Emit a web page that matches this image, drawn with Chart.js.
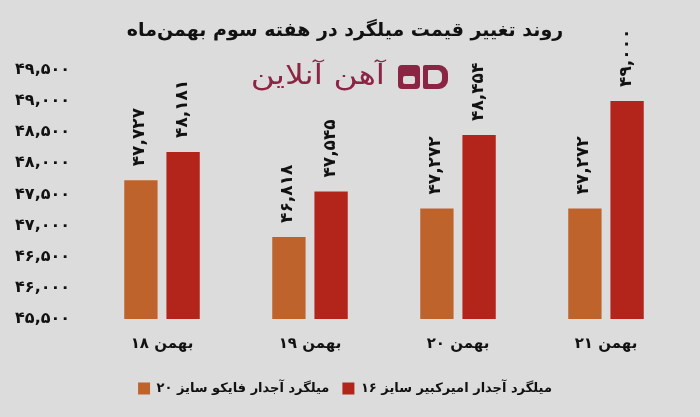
<!DOCTYPE html>
<html>
<head>
<meta charset="utf-8">
<script src="https://cdn.jsdelivr.net/npm/chart.js@4/dist/chart.umd.min.js"></script>
<style>
  html, body { margin: 0; padding: 0; background: #dcdcdc; }
  #wrap { width: 700px; height: 417px; }
</style>
</head>
<body>
<div id="wrap"><canvas id="chart" width="700" height="417"></canvas></div>
<script>
// داده‌ها
const categories = ['۱۸ بهمن', '۱۹ بهمن', '۲۰ بهمن', '۲۱ بهمن'];
const faykoValues = [47727, 46818, 47272, 47272];
const amirkabirValues = [48181, 47545, 48454, 49000];
const seriesNames = ['میلگرد آجدار فایکو سایز ۲۰', 'میلگرد آجدار امیرکبیر سایز ۱۶'];
const yMin = 45500, yMax = 49500, yStep = 500;

const FONT = "'DejaVu Sans', sans-serif";

// ارقام فارسی
function toFa(n) {
    const s = n.toLocaleString('en-US');
    return s.replace(/\d/g, d => '۰۱۲۳۴۵۶۷۸۹'[d]);
}
// جهت متن: عدد سمت چپ (LTR isolate) و متن راست‌به‌چپ (RTL isolate)
const ltr = s => '\u2066' + s + '\u2069';
const rtl = s => '\u2067' + s + '\u2069';

// برچسب روی ستون‌ها (عمودی)
const barLabels = {
    id: 'barLabels',
    afterDatasetsDraw(chart) {
        const ctx = chart.ctx;
        chart.data.datasets.forEach((ds, i) => {
            const meta = chart.getDatasetMeta(i);
            meta.data.forEach((bar, j) => {
                ctx.save();
                ctx.translate(bar.x - 1, bar.y - 14);
                ctx.rotate(-Math.PI / 2);
                ctx.font = 'bold 17px ' + FONT;
                ctx.fillStyle = '#111';
                ctx.textAlign = 'left';
                ctx.textBaseline = 'middle';
                ctx.fillText(toFa(ds.data[j]), 0, 0);
                ctx.restore();
            });
        });
    }
};

// لوگو آهن آنلاین
const logo = {
    id: 'logo',
    afterDraw(chart) {
        const ctx = chart.ctx;
        const c = '#8c2444';
        ctx.save();
        ctx.fillStyle = c;
        ctx.font = '27px ' + FONT;
        ctx.textAlign = 'right';
        ctx.textBaseline = 'middle';
        ctx.save();
        ctx.translate(385, 77);
        ctx.scale(1.22, 1);
        ctx.fillText('آهن آنلاین', 0, 0);
        ctx.restore();
        // آیکون
        ctx.beginPath();
        ctx.roundRect(398, 65, 22, 24, 4);
        ctx.roundRect(423, 65, 25, 24, [2, 9, 9, 2]);
        ctx.fill();
        ctx.fillStyle = '#dcdcdc';
        ctx.beginPath();
        ctx.roundRect(403, 76, 12, 8, 2);
        ctx.roundRect(428, 70, 14, 14, [1, 5, 5, 1]);
        ctx.fill();
        ctx.restore();
    }
};

const bg = {
    id: 'bg',
    beforeDraw(chart) {
        const ctx = chart.ctx;
        ctx.save();
        ctx.fillStyle = '#dcdcdc';
        ctx.fillRect(0, 0, chart.width, chart.height);
        ctx.restore();
    }
};

new Chart(document.getElementById('chart'), {
    type: 'bar',
    data: {
        labels: categories.map(ltr),
        datasets: [{
            label: rtl(seriesNames[0]),
            data: faykoValues,
            backgroundColor: '#bf632d',
            categoryPercentage: 0.57,
            barPercentage: 0.79
        }, {
            label: rtl(seriesNames[1]),
            data: amirkabirValues,
            backgroundColor: '#b3241b',
            categoryPercentage: 0.57,
            barPercentage: 0.79
        }]
    },
    options: {
        responsive: false,
        animation: false,
        layout: { padding: { left: 10, right: 20, bottom: 12 } },
        scales: {
            x: {
                grid: { display: false, drawTicks: false },
                border: { display: false },
                ticks: {
                    padding: 16,
                    color: '#111',
                    font: { family: FONT, size: 15, weight: 'bold' }
                }
            },
            y: {
                min: yMin,
                max: yMax,
                grid: { display: false, drawTicks: false },
                border: { display: false },
                afterFit(scale) { scale.width = 78; },
                ticks: {
                    stepSize: yStep,
                    padding: 18,
                    color: '#111',
                    font: { family: FONT, size: 16, weight: 'bold' },
                    callback: v => toFa(v)
                }
            }
        },
        plugins: {
            title: {
                display: true,
                text: 'روند تغییر قیمت میلگرد در هفته سوم بهمن‌ماه',
                color: '#111',
                font: { family: FONT, size: 19, weight: 'bold' },
                padding: { top: 20, bottom: 27 }
            },
            legend: {
                position: 'bottom',
                labels: {
                    color: '#111',
                    boxWidth: 12,
                    boxHeight: 12,
                    padding: 13,
                    font: { family: FONT, size: 13, weight: 'bold' }
                }
            },
            tooltip: { enabled: false }
        }
    },
    plugins: [bg, barLabels, logo]
});
</script>
</body>
</html>
